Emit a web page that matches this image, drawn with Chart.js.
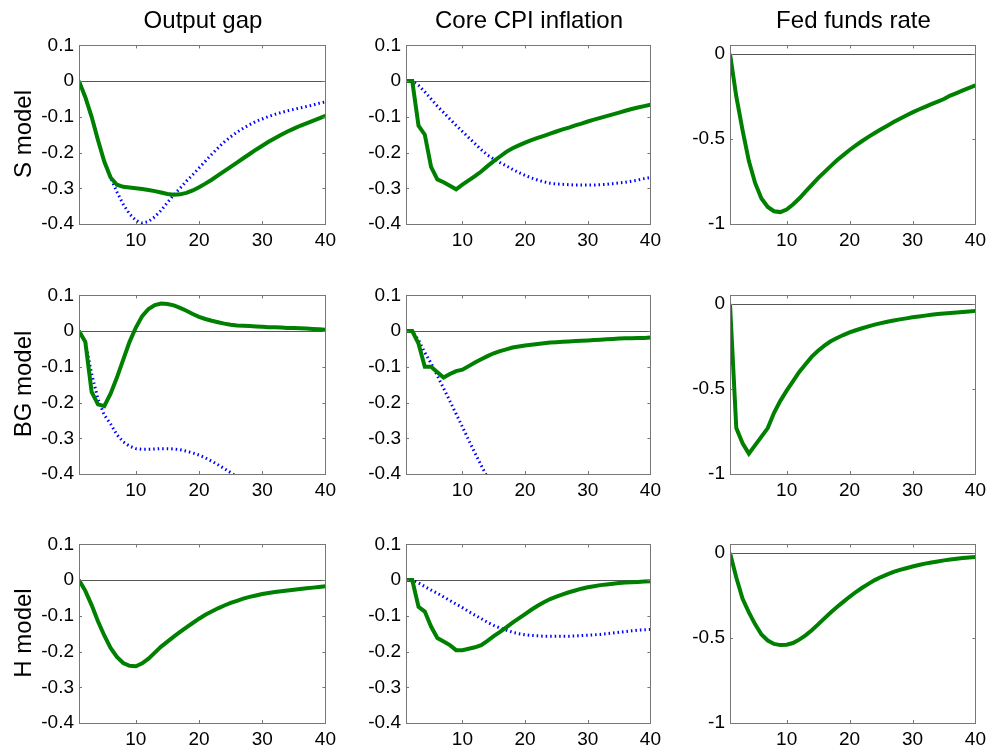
<!DOCTYPE html>
<html>
<head>
<meta charset="utf-8">
<script src="https://cdn.jsdelivr.net/npm/chart.js@4.4.0/dist/chart.umd.min.js"></script>
<style>
  html, body { margin: 0; padding: 0; background: #fff; overflow: hidden; }
  body { width: 989px; height: 746px; position: relative; font-family: "Liberation Sans", Arial, sans-serif; }
  canvas { position: absolute; }
  .title { position: absolute; font-size: 24px; color: #000; transform: translate(-50%, -50%); white-space: nowrap; }
  .rowlab { position: absolute; font-size: 24px; color: #000; transform: translate(-50%, -50%) rotate(-90deg); white-space: nowrap; }
</style>
</head>
<body>
<script>
// horizon (quarters)
const quarters = [1, 2, 3, 4, 5, 6, 7, 8, 9, 10, 11, 12, 13, 14, 15, 16, 17, 18, 19, 20,
  21, 22, 23, 24, 25, 26, 27, 28, 29, 30, 31, 32, 33, 34, 35, 36, 37, 38, 39, 40];
const xTicks = [10, 20, 30, 40];

const columnTitles = ['Output gap', 'Core CPI inflation', 'Fed funds rate'];
const rowTitles = ['S model', 'BG model', 'H model'];

const gapTicks = [-0.4, -0.3, -0.2, -0.1, 0, 0.1];
const gapTickLabels = ['-0.4', '-0.3', '-0.2', '-0.1', '0', '0.1'];
const rateTicks = [-1, -0.5, 0];
const rateTickLabels = ['-1', '-0.5', '0'];

// S model
const sGapGreen = [0, -0.045, -0.10, -0.165, -0.225, -0.27, -0.29, -0.296, -0.298, -0.30,
  -0.302, -0.305, -0.308, -0.312, -0.316, -0.318, -0.317, -0.313, -0.306, -0.297,
  -0.287, -0.276, -0.264, -0.252, -0.240, -0.228, -0.216, -0.204, -0.192, -0.181,
  -0.170, -0.160, -0.150, -0.141, -0.133, -0.125, -0.118, -0.111, -0.104, -0.097];
const sGapBlue = [0, -0.045, -0.10, -0.165, -0.225, -0.27, -0.31, -0.345, -0.372, -0.39,
  -0.397, -0.393, -0.38, -0.362, -0.34, -0.318, -0.30, -0.28, -0.262, -0.243,
  -0.224, -0.205, -0.187, -0.170, -0.156, -0.143, -0.132, -0.122, -0.113, -0.106,
  -0.099, -0.093, -0.088, -0.083, -0.079, -0.075, -0.071, -0.067, -0.062, -0.058];
const sCpiGreen = [0, 0, -0.125, -0.15, -0.24, -0.275, -0.283, -0.293, -0.303, -0.29,
  -0.278, -0.266, -0.253, -0.238, -0.224, -0.211, -0.198, -0.188, -0.180, -0.172,
  -0.165, -0.159, -0.153, -0.147, -0.141, -0.135, -0.130, -0.124, -0.119, -0.113,
  -0.108, -0.103, -0.098, -0.093, -0.088, -0.083, -0.078, -0.074, -0.070, -0.066];
const sCpiBlue = [0, 0, -0.012, -0.03, -0.05, -0.07, -0.088, -0.106, -0.124, -0.141,
  -0.158, -0.175, -0.192, -0.207, -0.218, -0.228, -0.237, -0.247, -0.256, -0.264,
  -0.271, -0.277, -0.282, -0.286, -0.288, -0.289, -0.290, -0.291, -0.291, -0.291,
  -0.291, -0.290, -0.289, -0.287, -0.285, -0.283, -0.280, -0.277, -0.273, -0.270];
const sRateGreen = [0, -0.25, -0.45, -0.63, -0.76, -0.85, -0.90, -0.925, -0.93, -0.915,
  -0.885, -0.85, -0.81, -0.77, -0.73, -0.695, -0.66, -0.625, -0.595, -0.565,
  -0.538, -0.512, -0.488, -0.465, -0.443, -0.422, -0.401, -0.381, -0.362, -0.344,
  -0.327, -0.311, -0.295, -0.280, -0.265, -0.245, -0.23, -0.215, -0.20, -0.185];

// BG model
const bgGapGreen = [0, -0.03, -0.17, -0.205, -0.21, -0.175, -0.13, -0.08, -0.03, 0.01,
  0.042, 0.062, 0.073, 0.077, 0.076, 0.072, 0.065, 0.057, 0.048, 0.040,
  0.034, 0.029, 0.025, 0.021, 0.018, 0.016, 0.015, 0.014, 0.013, 0.012,
  0.011, 0.011, 0.010, 0.009, 0.009, 0.008, 0.007, 0.006, 0.005, 0.004];
const bgGapBlue = [0, -0.03, -0.12, -0.19, -0.235, -0.26, -0.29, -0.31, -0.322, -0.329,
  -0.331, -0.331, -0.330, -0.329, -0.329, -0.330, -0.332, -0.336, -0.341, -0.347,
  -0.355, -0.364, -0.374, -0.385, -0.396, -0.408, -0.42, -0.432, null, null,
  null, null, null, null, null, null, null, null, null, null];
const bgCpiGreen = [0, 0, -0.035, -0.10, -0.10, -0.115, -0.13, -0.12, -0.112, -0.108,
  -0.098, -0.088, -0.079, -0.070, -0.062, -0.056, -0.051, -0.046, -0.043, -0.040,
  -0.038, -0.036, -0.034, -0.032, -0.031, -0.030, -0.029, -0.028, -0.027, -0.026,
  -0.025, -0.024, -0.023, -0.022, -0.021, -0.020, -0.020, -0.019, -0.019, -0.018];
const bgCpiBlue = [0, 0, -0.025, -0.06, -0.09, -0.125, -0.16, -0.196, -0.232, -0.268,
  -0.305, -0.341, -0.376, -0.41, -0.445, null, null, null, null, null,
  null, null, null, null, null, null, null, null, null, null,
  null, null, null, null, null, null, null, null, null, null];
const bgRateGreen = [0, -0.73, -0.82, -0.88, -0.83, -0.78, -0.73, -0.64, -0.57, -0.51,
  -0.455, -0.40, -0.355, -0.31, -0.275, -0.245, -0.22, -0.20, -0.183, -0.168,
  -0.155, -0.143, -0.132, -0.122, -0.113, -0.105, -0.098, -0.091, -0.085, -0.079,
  -0.074, -0.069, -0.064, -0.060, -0.056, -0.053, -0.050, -0.047, -0.044, -0.041];

// H model
const hGapGreen = [0, -0.03, -0.07, -0.115, -0.155, -0.19, -0.215, -0.232, -0.240, -0.241,
  -0.233, -0.22, -0.203, -0.186, -0.172, -0.158, -0.145, -0.132, -0.120, -0.108,
  -0.097, -0.088, -0.079, -0.071, -0.064, -0.058, -0.052, -0.047, -0.043, -0.039,
  -0.036, -0.033, -0.031, -0.029, -0.027, -0.025, -0.023, -0.021, -0.019, -0.017];
const hCpiGreen = [0, 0, -0.075, -0.088, -0.13, -0.162, -0.172, -0.182, -0.196, -0.196,
  -0.192, -0.188, -0.182, -0.17, -0.157, -0.145, -0.132, -0.119, -0.107, -0.095,
  -0.083, -0.072, -0.062, -0.053, -0.046, -0.04, -0.034, -0.029, -0.024, -0.020,
  -0.017, -0.014, -0.012, -0.010, -0.008, -0.007, -0.006, -0.005, -0.004, -0.003];
const hCpiBlue = [0, 0, -0.008, -0.018, -0.028, -0.037, -0.047, -0.057, -0.067, -0.077,
  -0.088, -0.098, -0.108, -0.118, -0.127, -0.134, -0.140, -0.146, -0.150, -0.153,
  -0.155, -0.156, -0.157, -0.157, -0.157, -0.157, -0.157, -0.156, -0.155, -0.154,
  -0.153, -0.152, -0.150, -0.148, -0.146, -0.144, -0.142, -0.140, -0.139, -0.138];
const hRateGreen = [0, -0.145, -0.27, -0.35, -0.42, -0.48, -0.515, -0.535, -0.542, -0.54,
  -0.53, -0.51, -0.485, -0.455, -0.42, -0.385, -0.35, -0.318, -0.288, -0.258,
  -0.23, -0.205, -0.182, -0.16, -0.142, -0.126, -0.112, -0.1, -0.09, -0.08,
  -0.071, -0.063, -0.056, -0.05, -0.044, -0.039, -0.034, -0.030, -0.027, -0.024];

// panel grid geometry (plot box edges in page pixels)
const colLeft = [79, 406, 730];
const colRight = [327, 652, 977];
const rowTop = [44, 294, 543];
const rowBottom = [224, 474, 723];
const padL = 70, padT = 15, padR = 14, padB = 35;

const panels = [
  [sGapGreen, sGapBlue, 'gap'], [sCpiGreen, sCpiBlue, 'gap'], [sRateGreen, null, 'rate'],
  [bgGapGreen, bgGapBlue, 'gap'], [bgCpiGreen, bgCpiBlue, 'gap'], [bgRateGreen, null, 'rate'],
  [hGapGreen, null, 'gap'], [hCpiGreen, hCpiBlue, 'gap'], [hRateGreen, null, 'rate']
];

const tickFont = { family: '"Liberation Sans", Arial, sans-serif', size: 19 };

// box, inner tick marks and zero line, MATLAB style
const boxPlugin = {
  id: 'box',
  beforeDatasetsDraw(chart) {
    const { ctx, chartArea: a, scales } = chart;
    const y0 = scales.y.getPixelForValue(0);
    ctx.save();
    ctx.strokeStyle = '#555';
    ctx.lineWidth = 1;
    ctx.beginPath();
    ctx.moveTo(a.left, Math.round(y0) + 0.5);
    ctx.lineTo(a.right, Math.round(y0) + 0.5);
    ctx.stroke();
    ctx.restore();
  },
  afterDatasetsDraw(chart) {
    const { ctx, chartArea: a, scales } = chart;
    ctx.save();
    ctx.strokeStyle = '#777';
    ctx.lineWidth = 1;
    ctx.strokeRect(Math.round(a.left) + 0.5, Math.round(a.top) + 0.5,
      Math.round(a.right - a.left), Math.round(a.bottom - a.top));
    ctx.beginPath();
    scales.x.ticks.forEach(t => {
      const px = Math.round(scales.x.getPixelForValue(t.value)) + 0.5;
      ctx.moveTo(px, a.bottom); ctx.lineTo(px, a.bottom - 3);
      ctx.moveTo(px, a.top); ctx.lineTo(px, a.top + 3);
    });
    scales.y.ticks.forEach(t => {
      const py = Math.round(scales.y.getPixelForValue(t.value)) + 0.5;
      ctx.moveTo(a.left, py); ctx.lineTo(a.left + 3, py);
      ctx.moveTo(a.right, py); ctx.lineTo(a.right - 3, py);
    });
    ctx.stroke();
    ctx.restore();
  }
};

function toPoints(vals) {
  return quarters.map((q, i) => ({ x: q, y: vals[i] }));
}

panels.forEach((p, k) => {
  const r = Math.floor(k / 3), c = k % 3;
  const [green, blue, kind] = p;
  const w = colRight[c] - colLeft[c] + padL + padR;
  const h = rowBottom[r] - rowTop[r] + padT + padB;
  const cv = document.createElement('canvas');
  cv.width = w; cv.height = h;
  cv.style.left = (colLeft[c] - padL) + 'px';
  cv.style.top = (rowTop[r] - padT) + 'px';
  cv.style.width = w + 'px'; cv.style.height = h + 'px';
  document.body.appendChild(cv);

  const yT = kind === 'gap' ? gapTicks : rateTicks;
  const yL = kind === 'gap' ? gapTickLabels : rateTickLabels;

  const datasets = [{
    data: toPoints(green),
    borderColor: 'rgb(0,128,0)',
    borderWidth: 4,
    pointRadius: 0,
    tension: 0,
    clip: 0,
    order: 0
  }];
  if (blue) {
    datasets.push({
      data: toPoints(blue),
      borderColor: 'rgb(0,0,255)',
      borderWidth: 3,
      borderDash: [1.5, 3],
      borderCapStyle: 'butt',
      pointRadius: 0,
      tension: 0,
      spanGaps: false,
      clip: 0,
      order: 1
    });
  }

  new Chart(cv.getContext('2d'), {
    type: 'line',
    data: { datasets },
    options: {
      responsive: false,
      animation: false,
      devicePixelRatio: 1,
      layout: { padding: { left: 0, top: padT, right: padR, bottom: 0 } },
      plugins: { legend: { display: false }, tooltip: { enabled: false } },
      scales: {
        x: {
          type: 'linear', min: 1, max: 40,
          afterBuildTicks: s => { s.ticks = xTicks.map(v => ({ value: v })); },
          afterFit: s => { s.height = padB; },
          grid: { display: false, drawTicks: false },
          border: { display: false },
          ticks: { font: tickFont, color: '#000', padding: 5, maxRotation: 0, autoSkip: false,
            callback: v => String(v) }
        },
        y: {
          type: 'linear',
          min: yT[0], max: kind === 'gap' ? 0.1 : 0.05,
          afterBuildTicks: s => { s.ticks = yT.map(v => ({ value: v })); },
          afterFit: s => { s.width = padL; },
          grid: { display: false, drawTicks: false },
          border: { display: false },
          ticks: { font: tickFont, color: '#000', padding: 5, autoSkip: false,
            callback: v => yL[yT.indexOf(v)] }
        }
      }
    },
    plugins: [boxPlugin]
  });
});

columnTitles.forEach((t, c) => {
  const d = document.createElement('div');
  d.className = 'title';
  d.textContent = t;
  d.style.left = ((colLeft[c] + colRight[c]) / 2) + 'px';
  d.style.top = '20px';
  document.body.appendChild(d);
});

rowTitles.forEach((t, r) => {
  const d = document.createElement('div');
  d.className = 'rowlab';
  d.textContent = t;
  d.style.left = '23px';
  d.style.top = ((rowTop[r] + rowBottom[r]) / 2) + 'px';
  document.body.appendChild(d);
});
</script>
</body>
</html>
